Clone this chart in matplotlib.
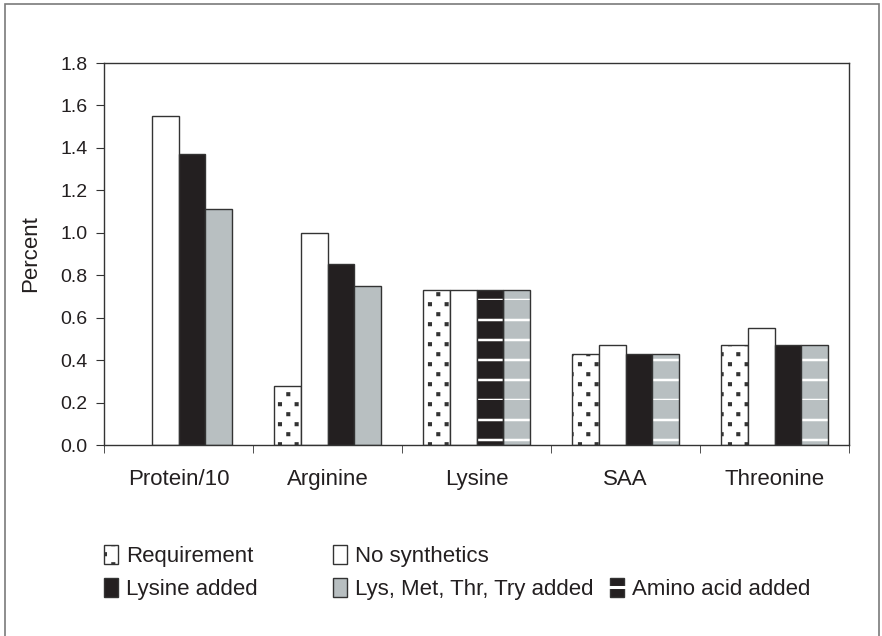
"""Amino acid levels in diets: requirement vs. formulations (grouped bar chart)."""

import matplotlib

matplotlib.use("Agg")
import matplotlib.hatch as mhatch
import matplotlib.pyplot as plt
import numpy as np
from matplotlib.lines import Line2D
from matplotlib.patches import Patch, Rectangle
from matplotlib.path import Path

# ---- data -------------------------------------------------------------
categories = ["Protein/10", "Arginine", "Lysine", "SAA", "Threonine"]
requirement = [np.nan, 0.28, 0.73, 0.43, 0.47]
no_synthetics = [1.55, 1.00, 0.73, 0.47, 0.55]
lysine_added = [1.37, 0.855, 0.73, 0.43, 0.47]
lys_met_thr_try = [1.11, 0.75, 0.73, 0.43, 0.47]
# which bars carry the "amino acid added" stripes
lysine_striped = [False, False, True, False, False]
lmtt_striped = [False, False, True, True, True]
yticks = [0.0, 0.2, 0.4, 0.6, 0.8, 1.0, 1.2, 1.4, 1.6, 1.8]


# ---- hatch patterns closer to the printed figure -----------------------
class StripeHatch(mhatch.HatchPatternBase):
    """Horizontal stripes, 5 per hatch tile (instead of 6)."""

    def __init__(self, hatch, density):
        self.num_lines = hatch.count("-") * 5
        self.num_vertices = self.num_lines * 2

    def set_vertices_and_codes(self, vertices, codes):
        steps = np.linspace(0.0, 1.0, self.num_lines, endpoint=False)
        vertices[0::2, 0] = 0.0
        vertices[0::2, 1] = steps
        vertices[1::2, 0] = 1.0
        vertices[1::2, 1] = steps
        codes[0::2] = Path.MOVETO
        codes[1::2] = Path.LINETO


class DotHatch(mhatch.HatchPatternBase):
    """Small square dots on a staggered 6 x 10 grid."""

    cols, rows, size = 6, 10, 0.016

    def __init__(self, hatch, density):
        n = min(hatch.count("."), 1)
        self.num_vertices = n * self.cols * self.rows * 5

    def set_vertices_and_codes(self, vertices, codes):
        s = self.size
        i = 0
        for r in range(self.rows):
            y = (r + 0.5) / self.rows
            shift = 0.5 / self.cols if r % 2 else 0.0
            for c in range(self.cols):
                x = (c + 0.25) / self.cols + shift
                vertices[i:i + 5] = [(x, y), (x + s, y), (x + s, y + s),
                                     (x, y + s), (x, y)]
                codes[i:i + 5] = [Path.MOVETO, Path.LINETO, Path.LINETO,
                                  Path.LINETO, Path.CLOSEPOLY]
                i += 5


mhatch._hatch_types = [
    StripeHatch if t is mhatch.HorizontalHatch
    else DotHatch if t is mhatch.SmallFilledCircles else t
    for t in mhatch._hatch_types
]

# ---- style ------------------------------------------------------------
plt.rcParams["font.family"] = ["Liberation Sans", "DejaVu Sans"]
plt.rcParams["hatch.linewidth"] = 1.8
TEXT = "#231f20"
EDGE = "#333333"
BLACK = "#231f20"
GRAY = "#b8bfc1"
FS_TICK = 14
FS = 16


def draw_bars(ax, x, values, face, striped=None, hatch=None):
    """Plain bars, optionally with white horizontal stripes on some of them."""
    striped = striped or [False] * len(values)
    for xi, v, s in zip(x, values, striped):
        if np.isnan(v):
            continue
        if s:
            ax.bar(xi, v, width=W, color=face, edgecolor="white", hatch="-",
                   linewidth=0, zorder=2)
            ax.bar(xi, v, width=W, fill=False, edgecolor=EDGE, linewidth=1.0,
                   zorder=3)
        else:
            ax.bar(xi, v, width=W, color=face, edgecolor=EDGE, hatch=hatch,
                   linewidth=1.0, zorder=2)


fig = plt.figure(figsize=(8.82, 6.36), dpi=100)
ax = fig.add_axes([104 / 882, 1 - 445 / 636, (849 - 104) / 882, (445 - 63) / 636])

x = np.arange(len(categories))
W = 0.181
draw_bars(ax, x - 1.5 * W, requirement, "white", hatch=".")
draw_bars(ax, x - 0.5 * W, no_synthetics, "white")
draw_bars(ax, x + 0.5 * W, lysine_added, BLACK, lysine_striped)
draw_bars(ax, x + 1.5 * W, lys_met_thr_try, GRAY, lmtt_striped)

ax.set_xlim(-0.5, len(categories) - 0.5)
ax.set_ylim(0, 1.8)
ax.set_yticks(yticks)
ax.set_yticklabels([f"{t:.1f}" for t in yticks], fontsize=FS_TICK, color=TEXT)
ax.set_xticks(x)
ax.set_xticklabels(categories, fontsize=FS, color=TEXT)
ax.tick_params(axis="x", which="major", length=0, pad=17)
ax.set_xticks(np.arange(-0.5, len(categories)), minor=True)
ax.tick_params(axis="x", which="minor", length=6, direction="out", color=EDGE)
ax.tick_params(axis="y", length=6, direction="out", color=EDGE, pad=6)
ax.set_ylabel("Percent", fontsize=FS, color=TEXT, labelpad=14)
for sp in ax.spines.values():
    sp.set_color(EDGE)
    sp.set_linewidth(1.0)

# ---- legend ----------------------------------------------------------
h_req = Patch(facecolor="white", edgecolor=EDGE, hatch=".", linewidth=1.0)
h_none = Patch(facecolor="white", edgecolor=EDGE, linewidth=1.0)
h_lys = Patch(facecolor=BLACK, edgecolor=EDGE, linewidth=1.0)
h_lmtt = Patch(facecolor=GRAY, edgecolor=EDGE, linewidth=1.0)
h_aa = (Patch(facecolor=BLACK, edgecolor=EDGE, linewidth=1.0),
        Line2D([], [], color="white", linewidth=2.2))
h_blank = Patch(facecolor="none", edgecolor="none")

leg_kw = dict(frameon=False, fontsize=FS, handlelength=0.65, handleheight=0.92,
              handletextpad=0.35, labelspacing=0.5, borderpad=0, borderaxespad=0,
              labelcolor=TEXT, loc="upper left")
top = 1 - 545 / 636
fig.legend([h_req, h_lys], ["Requirement", "Lysine added"],
           bbox_to_anchor=(104 / 882, top), **leg_kw)
fig.legend([h_none, h_lmtt], ["No synthetics", "Lys, Met, Thr, Try added"],
           bbox_to_anchor=(333 / 882, top), **leg_kw)
fig.legend([h_blank, h_aa], [" ", "Amino acid added"],
           bbox_to_anchor=(610 / 882, top), **leg_kw)

# outer frame of the figure panel
fig.patches.append(Rectangle((5 / 882, -0.1), 874 / 882, 1.1 - 4 / 636,
                             transform=fig.transFigure, fill=False,
                             edgecolor="#7a7a7a", linewidth=1.2))

fig.savefig("out.png", dpi=100)
